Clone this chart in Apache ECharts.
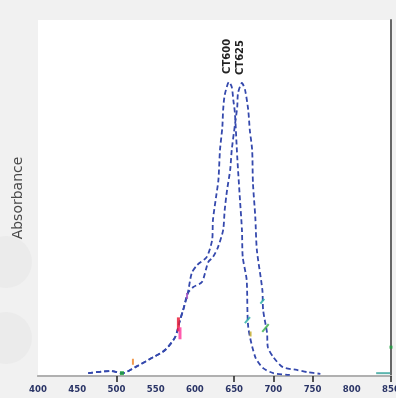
<!DOCTYPE html>
<html><head><meta charset="utf-8">
<script src="https://cdn.jsdelivr.net/npm/echarts@6/dist/echarts.min.js"></script>
<style>html,body{margin:0;padding:0;background:#f1f1f1;}#c{width:396px;height:398px;}</style>
</head><body><div id="c"></div>
<script>
// wavelength (nm) and absorbance (relative, 0..1)
const ct600X = [464,492,508,524,547,562,575,581,585,591,596,603,615,622,623,627,630,632,635,636,638,643.5,647,649,651,654,657.5,660,661,666,668,677,687,700,721];
const ct600Y = [0.008,0.014,0.008,0.025,0.053,0.073,0.11,0.157,0.185,0.233,0.289,0.312,0.334,0.382,0.438,0.503,0.551,0.635,0.699,0.747,0.789,0.826,0.812,0.775,0.739,0.615,0.494,0.41,0.334,0.27,0.138,0.053,0.022,0.008,0.003];
const ct625X = [464,492,508,524,547,562,575,581,585,591,598,609,617,623,629.5,636,638,641,645,647,651,654,655,660,664,668,670,673,674,677,679,686,687,692,693,700,712,730,743,760];
const ct625Y = [0.008,0.014,0.008,0.025,0.053,0.073,0.11,0.157,0.185,0.233,0.25,0.264,0.32,0.334,0.362,0.41,0.466,0.522,0.579,0.635,0.705,0.756,0.795,0.823,0.803,0.747,0.691,0.635,0.542,0.447,0.354,0.242,0.185,0.121,0.081,0.053,0.025,0.017,0.011,0.006];
const seriesNames = ['CT600','CT625'];
const xTickLabels = [400,450,500,550,600,650,700,750,800,850];
const markedTicks = [500,650,700,750,850];
// small coloured annotation marks along the traces
const markX = [521,579,581,590,667,671,686,690,507,850,840];
const markY = [0.04,0.145,0.12,0.225,0.157,0.118,0.21,0.135,0.008,0.081,0.008];
const markColors = ['#f08a30','#e8203a','#ff3fa0','#a050c0','#30b0a8','#c8b030','#30b0a8','#40b050','#20a040','#20a040','#40a8a0'];
const markSizes = [[2,6],[3,14],[3,12],[2,6],[2,8],[2,5],[2,6],[2,10],[4,4],[3,3],[14,2]];
const markRot = [0,0,0,0,-40,0,-40,-40,0,0,0];

const chart = echarts.init(document.getElementById('c'), null, {renderer:'canvas'});
const lineStyle = {color:'#3549ad', width:1.8, type:[5,3]};
const pairs = (xs, ys) => xs.map((x,i)=>[x, ys[i]]);
const option = {
  backgroundColor: '#f1f1f1',
  animation: false,
  grid: {left:38, right:5, top:20, bottom:22, show:true, backgroundColor:'#ffffff', borderWidth:0,
    containLabel:false, outerBoundsMode:'none'},
  xAxis: [{
    type:'value', min:xTickLabels[0], max:xTickLabels[xTickLabels.length-1], interval:50,
    axisLine:{show:true, lineStyle:{color:'#b4b4b4', width:2}},
    axisTick:{show:true, customValues:markedTicks, length:6, inside:false, lineStyle:{color:'#222', width:1.5}},
    axisLabel:{color:'#2a3466', fontSize:9.5, fontWeight:'bold', fontFamily:'DejaVu Sans Condensed, DejaVu Sans', margin:9},
    splitLine:{show:false}
  },{
    type:'value', position:'top', min:xTickLabels[0], max:xTickLabels[xTickLabels.length-1],
    axisLine:{show:true, lineStyle:{color:'#b0b0b0', width:2}},
    axisTick:{show:false}, axisLabel:{show:false}, splitLine:{show:false}
  }],
  yAxis: [{
    type:'value', min:0, max:1,
    name:'Absorbance', nameLocation:'middle', nameGap:13,
    nameTextStyle:{color:'#4a4a4a', fontSize:14, fontFamily:'DejaVu Sans'},
    axisLine:{show:false}, axisTick:{show:false}, axisLabel:{show:false}, splitLine:{show:false}
  },{
    type:'value', position:'right', min:0, max:1,
    axisLine:{show:true, lineStyle:{color:'#666', width:2}},
    axisTick:{show:false}, axisLabel:{show:false}, splitLine:{show:false}
  }],
  series: [
    {name:seriesNames[0], type:'line', data:pairs(ct600X, ct600Y), showSymbol:false, smooth:0.25, lineStyle:lineStyle, z:3},
    {name:seriesNames[1], type:'line', data:pairs(ct625X, ct625Y), showSymbol:false, smooth:0.25, lineStyle:lineStyle, z:3},
    {name:'marks', type:'scatter', z:4,
      data: markX.map((x,i)=>({value:[x, markY[i]], symbol:'rect', symbolSize:markSizes[i], symbolRotate:markRot[i], itemStyle:{color:markColors[i], opacity:0.85}}))}
  ],
  graphic: [
    {type:'circle', shape:{cx:6, cy:262, r:26}, style:{fill:'#ebebeb'}, z:-10, silent:true},
    {type:'circle', shape:{cx:6, cy:338, r:26}, style:{fill:'#ebebeb'}, z:-10, silent:true}
  ]
};
chart.setOption(option);
// peak labels, placed above each trace's maximum via the chart's coordinate system
const peakOf = (xs, ys) => { let k = 0; ys.forEach((v,i)=>{ if (v > ys[k]) k = i; }); return [xs[k], ys[k]]; };
const peaks = [peakOf(ct600X, ct600Y), peakOf(ct625X, ct625Y)];
const labels = peaks.map((p, i) => {
  const px = chart.convertToPixel({xAxisIndex:0, yAxisIndex:0}, p);
  return {type:'text', x: px[0] - 2, y: px[1] - 8, rotation: Math.PI/2,
    style:{text: seriesNames[i], fill:'#222', font:'bold 10px "DejaVu Sans"', textAlign:'left', textVerticalAlign:'middle'}, z:10};
});
chart.setOption({graphic: option.graphic.concat(labels)});
</script></body></html>
